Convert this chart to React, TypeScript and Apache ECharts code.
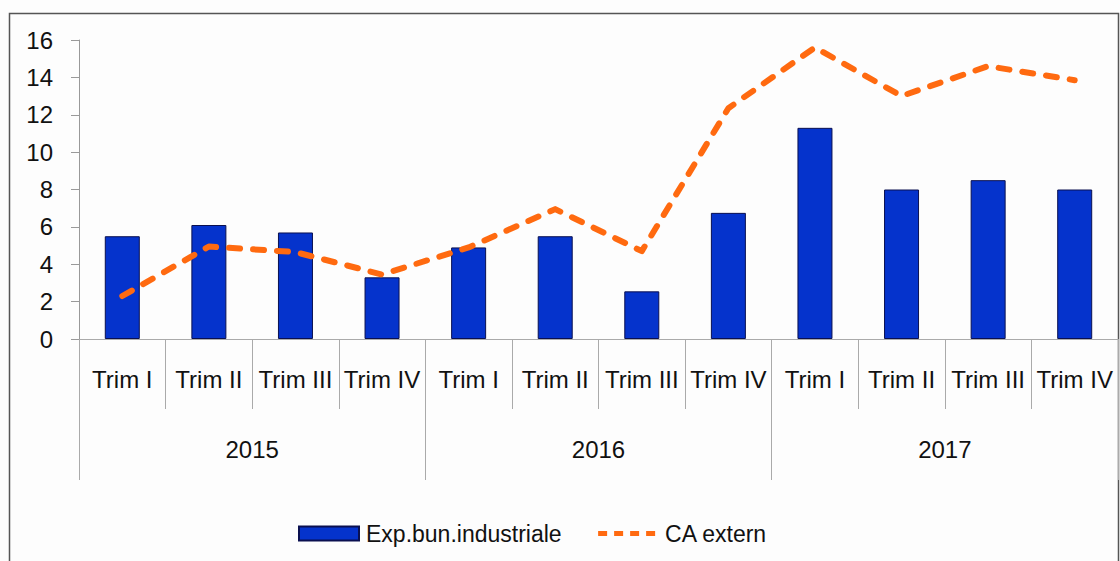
import React, { useEffect, useRef } from "react";
import * as echarts from "echarts";

const quarters = ["Trim I", "Trim II", "Trim III", "Trim IV", "Trim I", "Trim II", "Trim III", "Trim IV", "Trim I", "Trim II", "Trim III", "Trim IV"];
const years = ["2015", "2016", "2017"];
const expBun = [5.5, 6.1, 5.7, 3.3, 4.9, 5.5, 2.55, 6.75, 11.3, 8.0, 8.5, 8.0];
const caExtern = [2.3, 4.95, 4.65, 3.45, 4.9, 6.95, 4.7, 12.35, 15.6, 13.0, 14.6, 13.85];
const yTicks = { min: 0, max: 16, interval: 2 };

const FONT = "'Liberation Sans', Arial, sans-serif";

export default function App() {
  const ref = useRef<HTMLDivElement>(null);
  useEffect(() => {
    const chart = echarts.init(ref.current!, null, { renderer: "svg" });
    chart.setOption({
      animation: false,
      backgroundColor: "#fdfdfd",
      textStyle: { fontFamily: FONT, color: "#111" },
      graphic: [
        {
          type: "rect",
          shape: { x: 9.5, y: 13.5, width: 1109, height: 600 },
          style: { fill: "none", stroke: "#555", lineWidth: 1.5 },
          silent: true,
        },
      ],
      grid: { left: 79, right: 2, top: 40, bottom: 222 },
      legend: {
        left: 293,
        top: 517,
        itemWidth: 60,
        itemHeight: 14,
        itemGap: 34,
        textStyle: { fontSize: 23, color: "#111", fontFamily: FONT, padding: [0, 0, 0, 2] },
        data: [
          { name: "Exp.bun.industriale", icon: "rect" },
          {
            name: "CA extern",
            itemStyle: { opacity: 0 },
            lineStyle: { width: 5, type: [9, 7], cap: "butt", color: "#FF6A10" },
          },
        ],
      },
      xAxis: [
        {
          type: "category",
          data: quarters,
          position: "bottom",
          boundaryGap: true,
          axisLine: { show: true, lineStyle: { color: "#aaa", width: 1 } },
          axisTick: { show: true, interval: 0, length: 70, lineStyle: { color: "#aaa" } },
          axisLabel: { interval: 0, fontSize: 24, color: "#111", margin: 40, verticalAlign: "middle", fontFamily: FONT },
        },
        {
          type: "category",
          data: years,
          position: "bottom",
          boundaryGap: true,
          axisLine: { show: false },
          axisTick: { show: true, interval: 0, length: 141, lineStyle: { color: "#aaa" } },
          axisLabel: { interval: 0, fontSize: 24, color: "#111", margin: 110, verticalAlign: "middle", fontFamily: FONT },
        },
      ],
      yAxis: {
        type: "value",
        min: yTicks.min,
        max: yTicks.max,
        interval: yTicks.interval,
        axisLine: { show: true, lineStyle: { color: "#999" } },
        axisTick: { show: true, length: 8, lineStyle: { color: "#999" } },
        splitLine: { show: false },
        axisLabel: { fontSize: 24, color: "#111", margin: 26, fontFamily: FONT },
      },
      series: [
        {
          name: "Exp.bun.industriale",
          type: "bar",
          xAxisIndex: 0,
          data: expBun,
          barWidth: 35,
          itemStyle: { color: "#0533CC", borderColor: "#0a1050", borderWidth: 1 },
        },
        {
          name: "CA extern",
          type: "line",
          xAxisIndex: 0,
          data: caExtern,
          symbol: "none",
          lineStyle: { color: "#FF6A10", width: 6, type: [11, 13], cap: "round", join: "round" },
          itemStyle: { color: "#FF6A10" },
        },
      ],
    });
    return () => chart.dispose();
  }, []);
  return (
    <div
      ref={ref}
      style={{ position: "fixed", left: 0, top: 0, width: 1120, height: 561 }}
    />
  );
}
